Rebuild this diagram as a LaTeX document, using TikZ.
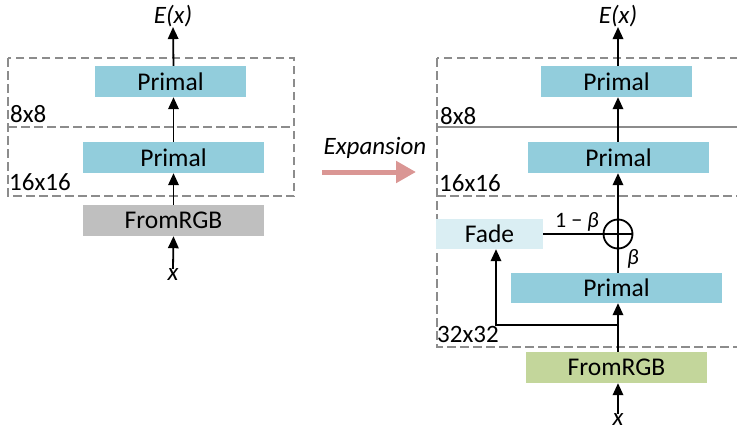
\documentclass[tikz,border=0pt]{standalone}
\usepackage{fontspec}
\setmainfont{Carlito}
\usetikzlibrary{arrows.meta,calc}
\definecolor{primalc}{HTML}{92CDDC}
\definecolor{fadec}{HTML}{DAEEF3}
\definecolor{rgbgray}{HTML}{BFBFBF}
\definecolor{rgbgreen}{HTML}{C3D69B}
\definecolor{framec}{HTML}{8C8C8C}
\definecolor{expc}{HTML}{DA9694}
\tikzset{
  blk/.style={inner sep=0pt, minimum height=31pt, font=\fontsize{25.5}{28}\selectfont},
  primal/.style={blk, fill=primalc},
  lbl/.style={inner sep=0pt, anchor=west, font=\fontsize{25}{28}\selectfont},
  varlbl/.style={inner sep=0pt, font=\fontsize{25}{28}\selectfont\itshape},
  arr/.style={line width=1.8pt, -{Triangle[length=12pt,width=10.5pt]}},
  link/.style={line width=1.8pt},
  frame/.style={draw=framec, line width=1.4pt, dash pattern=on 8.5pt off 4.5pt},
}
\begin{document}
\begin{tikzpicture}[x=1pt,y=-1pt]
\useasboundingbox (0,0) rectangle (737,434);
\clip (0,0) rectangle (737,434);

% ---------- left: encoder before growing ----------
\draw[frame] (8,58) rectangle (294,196);
\draw[frame] (8,127) -- (294,127);
\node[lbl] (l8) at (10,114) {8x8};
\node[lbl] (l16) at (9,182) {16x16};

\node[primal, minimum width=151pt] (lp1) at (170.5,81.5) {Primal};
\node[primal, minimum width=181pt] (lp2) at (173.5,157.5) {Primal};
\node[blk, fill=rgbgray, minimum width=181pt] (lrgb) at (173.5,220.5) {FromRGB};
\node[varlbl] (lx) at (173,275) {x};
\node[varlbl] (lex) at (173,16) {E(x)};

\draw[arr] (lx.north) -- (lrgb.south);
\draw[arr] (lrgb.north) -- (lp2.south);
\draw[arr] (lp2.north) -- (lp2.north |- lp1.south);
\draw[arr] (lp2.north |- lp1.north) -- (lex.south);

% ---------- expansion arrow ----------
\node[inner sep=0pt, font=\fontsize{25}{28}\selectfont\itshape] (exp) at (375,148) {Expansion};
\coordinate (e0) at (322,172);
\coordinate (e1) at (416,172);
\draw[expc, line width=5pt, -{Triangle[length=20pt,width=21pt]}] (e0) -- (e1);

% ---------- right: encoder after growing ----------
\draw[frame] (437,58) rectangle (760,347);
\draw[draw=framec, line width=1.4pt] (437,127) -- (760,127);
\draw[frame] (437,196) -- (760,196);
\node[lbl] (r8) at (440,116) {8x8};
\node[lbl] (r16) at (439,183) {16x16};
\node[lbl] (r32) at (437,334) {32x32};

\node[primal, minimum width=151pt] (rp1) at (616.5,81.5) {Primal};
\node[primal, minimum width=181pt] (rp2) at (618.5,157.5) {Primal};
\node[draw, circle, line width=1.8pt, minimum size=29pt, inner sep=0pt] (plus) at (618,234) {};
\draw[line width=1.8pt] (plus.north) -- (plus.south) (plus.west) -- (plus.east);
\node[blk, fill=fadec, minimum width=107pt, minimum height=30pt] (fade) at (489.5,234) {Fade};
\node[primal, minimum width=211pt, minimum height=30pt] (rp3) at (616.5,288) {Primal};
\node[blk, fill=rgbgreen, minimum width=181pt] (rrgb) at (616.5,367.5) {FromRGB};
\node[varlbl] (rx) at (618,420) {x};
\node[varlbl] (rex) at (618,16) {E(x)};

\coordinate (ax) at (618,0);
\coordinate (split) at (618,325);
\coordinate (turn) at (496,325);

\draw[arr] (rx.north) -- (rrgb.south -| ax);
\draw[link] (rrgb.north -| ax) -- (split);
\draw[arr] (split) -- (rp3.south -| ax);
\draw[arr] (split) -- (turn) -- (fade.south -| turn);
\draw[link] (rp3.north -| ax) -- (plus.south);
\draw[link] (fade.east) -- (plus.west);
\draw[arr] (plus.north) -- (rp2.south -| ax);
\draw[arr] (rp2.north -| ax) -- (rp1.south -| ax);
\draw[arr] (rp1.north -| ax) -- (rex.south);

\node[inner sep=0pt, font=\fontsize{22}{24}\selectfont] (omb) at (577,222) {1 − \textit{β}};
\node[inner sep=0pt, font=\fontsize{22}{24}\selectfont\itshape] (bt) at (633,259) {β};
\end{tikzpicture}
\end{document}
